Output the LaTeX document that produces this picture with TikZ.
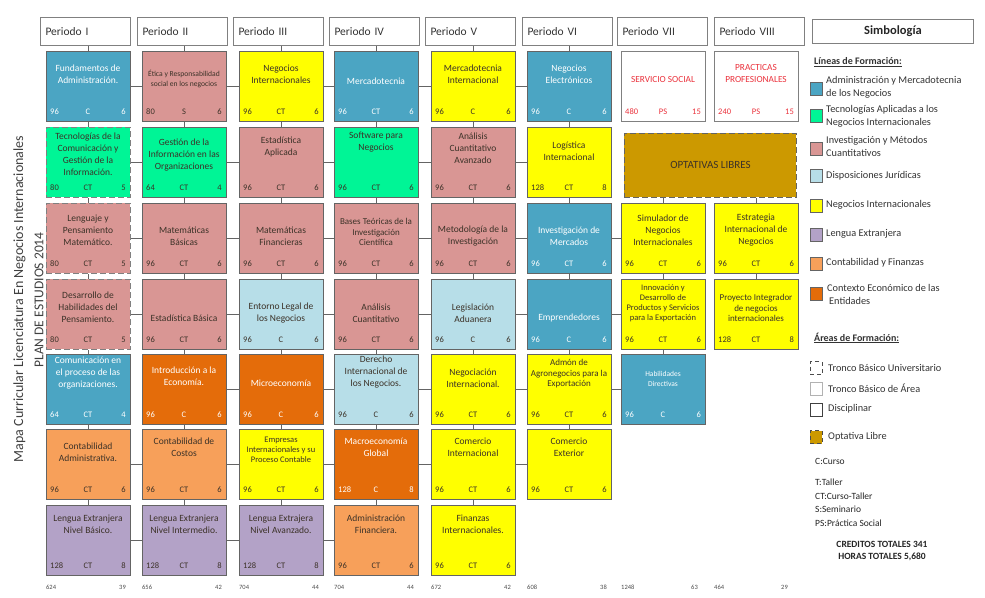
\documentclass[tikz,border=0pt]{standalone}
\usepackage{fontspec}
\setmainfont{Carlito}
\usetikzlibrary{calc}
\definecolor{admc}{RGB}{75,165,195}
\definecolor{tecc}{RGB}{0,245,150}
\definecolor{invc}{RGB}{217,150,148}
\definecolor{jurc}{RGB}{183,222,232}
\definecolor{negc}{RGB}{255,255,0}
\definecolor{lenc}{RGB}{179,162,199}
\definecolor{conc}{RGB}{247,160,90}
\definecolor{ecoc}{RGB}{228,108,10}
\definecolor{optc}{RGB}{204,153,0}
\definecolor{brd}{RGB}{100,100,100}
\definecolor{dtxt}{RGB}{60,50,40}
\definecolor{pstxt}{RGB}{235,50,60}
\tikzset{
 box/.style={draw=brd, line width=0.9pt, minimum width=84pt, minimum height=70pt, inner sep=0pt, anchor=north west},
 adm/.style={fill=admc, text=white},
 tec/.style={fill=tecc, text=dtxt},
 inv/.style={fill=invc, text=dtxt},
 jur/.style={fill=jurc, text=dtxt},
 neg/.style={fill=negc, text=dtxt},
 len/.style={fill=lenc, text=dtxt},
 con/.style={fill=conc, text=dtxt},
 eco/.style={fill=ecoc, text=white},
 ps/.style={fill=white, text=pstxt, draw=gray, font=\fontsize{9.3}{12}\selectfont},
 tbu/.style={dash pattern=on 6pt off 3pt, draw=gray},
 sma/.style={font=\fontsize{7.6}{10.5}\selectfont},
 smb/.style={font=\fontsize{8.5}{10}\selectfont},
 smc/.style={font=\fontsize{9}{10.5}\selectfont},
 smd/.style={font=\fontsize{7.5}{10}\selectfont},
 ttl/.style={align=center, font=\fontsize{9.5}{12}\selectfont, inner sep=0pt},
 num/.style={font=\fontsize{8.5}{9}\selectfont, inner sep=0pt},
 conn/.style={draw=brd, line width=0.8pt},
 hdr/.style={draw=gray, line width=1pt, minimum width=90pt, minimum height=28pt, anchor=north west, text width=80pt, inner xsep=5pt, align=left, font=\fontsize{11.5}{13}\selectfont, text=black!80},
 tot/.style={font=\fontsize{6.5}{8}\selectfont, text=black!70, inner sep=0pt},
 sw/.style={draw=brd, line width=0.6pt, minimum width=12pt, minimum height=13pt, inner sep=0pt},
 leg/.style={font=\fontsize{10.3}{13}\selectfont, text=black!80, inner sep=0pt, align=left},
 abbr/.style={font=\fontsize{9.5}{11}\selectfont, text=black!85, inner sep=0pt, anchor=west},
}
\newcommand\crs[9]{%
 \node[box,#4] (#1) at (#2,#3) {};
 \node[ttl,#4,fill=none,draw=none] (#1t) at ($(#1.north west)+(42,#6)$) {#5};
 \node[#4,num,fill=none,draw=none,anchor=west] (#1h) at ($(#1.north west)+(4,61)$) {#7};
 \node[#4,num,fill=none,draw=none] (#1k) at ($(#1.north west)+(42,61)$) {#8};
 \node[#4,num,fill=none,draw=none,anchor=east] (#1c) at ($(#1.north west)+(80,61)$) {#9};
}
\begin{document}
\begin{tikzpicture}[x=1pt,y=-1pt]
\useasboundingbox (0,0) rectangle (985,597);
\fill[white] (0,0) rectangle (985,597);
% side titles
\node[rotate=90, font=\fontsize{14}{16}\selectfont, text=black!75, inner sep=0pt] (tmain) at (19.5,299) {Mapa Curricular Licenciatura En Negocios Internacionales};
\node[rotate=90, font=\fontsize{13.5}{16}\selectfont, text=black!75, inner sep=0pt] (tplan) at (39,300) {PLAN DE ESTUDIOS 2014};
% headers
\node[hdr] (ha) at (40,17) {Periodo I};
\node[hdr] (hb) at (137,17) {Periodo II};
\node[hdr] (hc) at (233,17) {Periodo III};
\node[hdr] (hd) at (329,17) {Periodo IV};
\node[hdr] (he) at (425,17) {Periodo V};
\node[hdr] (hf) at (522,17) {Periodo VI};
\node[hdr] (hg) at (617,17) {Periodo VII};
\node[hdr] (hh) at (714,17) {Periodo VIII};
% row 1
\crs{a1}{46}{51}{adm}{Fundamentos de\\Administración.}{23}{96}{C}{6}
\crs{b1}{142}{51}{inv,sma}{Ética y Responsabilidad\\social en los negocios}{28}{80}{S}{6}
\crs{c1}{239}{51}{neg}{Negocios\\Internacionales}{23}{96}{CT}{6}
\crs{d1}{334}{51}{adm}{Mercadotecnia}{30}{96}{CT}{6}
\crs{e1}{431}{51}{neg}{Mercadotecnia\\Internacional}{23}{96}{C}{6}
\crs{f1}{527}{51}{adm}{Negocios\\Electrónicos}{23}{96}{C}{6}
\crs{g1}{621}{51}{ps}{SERVICIO SOCIAL}{29}{480}{PS}{15}
\crs{h1}{714}{51}{ps}{PRACTICAS\\PROFESIONALES}{23}{240}{PS}{15}
% row 2
\crs{a2}{46}{127}{tec,tbu}{Tecnologías de la\\Comunicación y\\Gestión de la\\Información.}{27}{80}{CT}{5}
\crs{b2}{142}{127}{tec}{Gestión de la\\Información en las\\Organizaciones}{28}{64}{CT}{4}
\crs{c2}{239}{127}{inv}{Estadística\\Aplicada}{20}{96}{CT}{6}
\crs{d2}{334}{127}{tec}{Software para\\Negocios}{15}{96}{CT}{6}
\crs{e2}{431}{127}{inv}{Análisis\\Cuantitativo\\Avanzado}{21}{96}{CT}{6}
\crs{f2}{527}{127}{neg}{Logística\\Internacional}{24}{128}{CT}{8}
\node[draw=brd, line width=0.9pt, dash pattern=on 6pt off 3pt, fill=optc, minimum width=172pt, minimum height=64pt, anchor=north west, font=\fontsize{11}{12}\selectfont, text=dtxt] (opt) at (624,133) {OPTATIVAS LIBRES};
% row 3
\crs{a3}{46}{203}{inv,tbu}{Lenguaje y\\Pensamiento\\Matemático.}{27}{80}{CT}{5}
\crs{b3}{142}{203}{inv}{Matemáticas\\Básicas}{33}{96}{CT}{6}
\crs{c3}{239}{203}{inv}{Matemáticas\\Financieras}{33}{96}{CT}{6}
\crs{d3}{334}{203}{inv,smc}{Bases Teóricas de la\\Investigación\\Científica}{29}{96}{CT}{6}
\crs{e3}{431}{203}{inv}{Metodología de la\\Investigación}{33}{96}{CT}{6}
\crs{f3}{527}{203}{adm}{Investigación de\\Mercados}{33}{96}{CT}{6}
\crs{g3}{621}{203}{neg}{Simulador de\\Negocios\\Internacionales}{27}{96}{CT}{6}
\crs{h3}{714}{203}{neg}{Estrategia\\Internacional de\\Negocios}{27}{96}{CT}{6}
% row 4
\crs{a4}{46}{279}{inv,tbu}{Desarrollo de\\Habilidades del\\Pensamiento.}{28}{80}{CT}{5}
\crs{b4}{142}{279}{inv}{Estadística Básica}{39}{96}{CT}{6}
\crs{c4}{239}{279}{jur}{Entorno Legal de\\los Negocios}{34}{96}{C}{6}
\crs{d4}{334}{279}{inv}{Análisis\\Cuantitativo}{34}{96}{CT}{6}
\crs{e4}{431}{279}{jur}{Legislación\\Aduanera}{34}{96}{C}{6}
\crs{f4}{527}{279}{adm}{Emprendedores}{39}{96}{C}{6}
\crs{g4}{621}{279}{neg,smb}{Innovación y\\Desarrollo de\\Productos y Servicios\\para la Exportación}{24}{96}{CT}{6}
\crs{h4}{714}{279}{neg,smc}{Proyecto Integrador\\de negocios\\internacionales}{29}{128}{CT}{8}
% row 5
\crs{a5}{46}{354}{adm}{Comunicación en\\el proceso de las\\organizaciones.}{19}{64}{CT}{4}
\crs{b5}{142}{354}{eco}{Introducción a la\\Economía.}{22}{96}{C}{6}
\crs{c5}{239}{354}{eco}{Microeconomía}{29}{96}{C}{6}
\crs{d5}{334}{354}{jur}{Derecho\\Internacional de\\los Negocios.}{18}{96}{C}{6}
\crs{e5}{431}{354}{neg}{Negociación\\Internacional.}{24}{96}{CT}{6}
\crs{f5}{527}{354}{neg,smc}{Admón de\\Agronegocios para la\\Exportación}{20}{96}{CT}{6}
\crs{g5}{621}{354}{adm,smd}{Habilidades\\Directivas}{25}{96}{C}{6}
% row 6
\crs{a6}{46}{429}{con}{Contabilidad\\Administrativa.}{23}{96}{CT}{6}
\crs{b6}{142}{429}{con}{Contabilidad de\\Costos}{18}{96}{CT}{6}
\crs{c6}{239}{429}{neg,smb}{Empresas\\Internacionales y su\\Proceso Contable}{21}{96}{CT}{6}
\crs{d6}{334}{429}{eco}{Macroeconomía\\Global}{18}{128}{C}{8}
\crs{e6}{431}{429}{neg}{Comercio\\Internacional}{18}{96}{CT}{6}
\crs{f6}{527}{429}{neg}{Comercio\\Exterior}{18}{96}{CT}{6}
% row 7
\crs{a7}{46}{505}{len}{Lengua Extranjera\\Nivel Básico.}{19}{128}{CT}{8}
\crs{b7}{142}{505}{len}{Lengua Extranjera\\Nivel Intermedio.}{19}{128}{CT}{8}
\crs{c7}{239}{505}{len}{Lengua Extrajera\\Nivel Avanzado.}{19}{128}{CT}{8}
\crs{d7}{334}{505}{con}{Administración\\Financiera.}{19}{96}{CT}{6}
\crs{e7}{431}{505}{neg}{Finanzas\\Internacionales.}{19}{96}{CT}{6}
% connectors: header to first row
\foreach \cl in {a,b,c,d,e,f}{\draw[conn] (\cl1.north |- h\cl.south) -- (\cl1.north);}
% vertical connectors
\foreach \cl/\m in {a/6,b/6,c/6,d/6,e/6,f/5}{
  \foreach \r in {1,...,\m}{\pgfmathtruncatemacro\nx{\r+1}\draw[conn] (\cl\r.south) -- (\cl\nx.north);}}
\draw[conn] (g3.south) -- (g4.north);
\draw[conn] (g4.south) -- (g5.north);
\draw[conn] (h3.south) -- (h4.north);
\draw[conn] (g3.north |- opt.south) -- (g3.north);
\draw[conn] (h3.north |- opt.south) -- (h3.north);
% horizontal connectors
\foreach \p/\q in {a1/b1,b1/c1,c1/d1,d1/e1,e1/f1,
  a2/b2,b2/c2,c2/d2,d2/e2,e2/f2,
  a3/b3,b3/c3,c3/d3,d3/e3,e3/f3,f3/g3,
  a4/b4,b4/c4,c4/d4,d4/e4,e4/f4,f4/g4,
  b5/c5,c5/d5,d5/e5,e5/f5,f5/g5,
  a6/b6,b6/c6,c6/d6,d6/e6,e6/f6,
  a7/b7,b7/c7,c7/d7}{\draw[conn] (\p.east) -- (\q.west);}
% totals
\foreach \cl/\x/\hl/\hr/\w in {a/46/624/39/80, b/142/656/42/80, c/239/704/44/80, d/334/704/44/80, e/431/672/42/80, f/527/608/38/80, g/621/1248/63/77, h/714/464/29/74}{
  \node[tot,anchor=west] (t\cl l) at (\x,587) {\hl};
  \node[tot,anchor=east] (t\cl r) at (\x+\w,587) {\hr};}
% legend
\node[draw=gray, line width=1pt, minimum width=161pt, minimum height=24pt, anchor=north west, font=\bfseries\fontsize{12.5}{14}\selectfont, text=black!85] (simb) at (812,19) {Simbología};
\node[leg, anchor=west, font=\bfseries\fontsize{10}{12}\selectfont] (lin) at (814,62) {\underline{Líneas de Formación:}};
\node[sw, fill=admc] (s1) at (816,89) {};
\node[leg, anchor=north west] (l1) at (826,76) {Administración y Mercadotecnia\\de los Negocios};
\node[sw, fill=tecc] (s2) at (816,116) {};
\node[leg, anchor=north west] (l2) at (826,105) {Tecnologías Aplicadas a los\\Negocios Internacionales};
\node[sw, fill=invc] (s3) at (816,149) {};
\node[leg, anchor=north west] (l3) at (826,136) {Investigación y Métodos\\Cuantitativos};
\node[sw, fill=jurc] (s4) at (816,176) {};
\node[leg, anchor=west] (l4) at (826,176) {Disposiciones Jurídicas};
\node[sw, fill=negc] (s5) at (816,206) {};
\node[leg, anchor=west] (l5) at (826,205) {Negocios Internacionales};
\node[sw, fill=lenc] (s6) at (816,235) {};
\node[leg, anchor=west] (l6) at (826,234) {Lengua Extranjera};
\node[sw, fill=conc] (s7) at (816,264) {};
\node[leg, anchor=west] (l7) at (826,263) {Contabilidad y Finanzas};
\node[sw, fill=ecoc] (s8) at (816,294) {};
\node[leg, anchor=north west] (l8) at (827,284) {Contexto Económico de las\\\hspace*{2pt}Entidades};
\node[leg, anchor=west, font=\bfseries\fontsize{10}{12}\selectfont] (are) at (814,338) {\underline{Áreas de Formación:}};
\node[sw, fill=white, draw=black!70, dash pattern=on 4pt off 3pt] (s9) at (816,368) {};
\node[leg, anchor=west] (l9) at (828,368) {Tronco Básico Universitario};
\node[sw, fill=white, draw=gray!60] (s10) at (816,389) {};
\node[leg, anchor=west] (l10) at (828,388) {Tronco Básico de Área};
\node[sw, fill=white, draw=black!75] (s11) at (816,410) {};
\node[leg, anchor=west] (l11) at (828,409) {Disciplinar};
\node[sw, fill=optc, draw=black!70, dash pattern=on 4pt off 3pt] (s12) at (816,437) {};
\node[leg, anchor=west] (l12) at (828,437) {Optativa Libre};
\node[abbr] (ab1) at (815,461) {C:Curso};
\node[abbr] (ab2) at (815,482) {T:Taller};
\node[abbr] (ab3) at (815,496) {CT:Curso-Taller};
\node[abbr] (ab4) at (815,509) {S:Seminario};
\node[abbr] (ab5) at (815,523) {PS:Práctica Social};
\node[font=\bfseries\fontsize{9.5}{11}\selectfont, text=black!85, inner sep=0pt] (cred) at (882,544) {CREDITOS TOTALES 341};
\node[font=\bfseries\fontsize{9.5}{11}\selectfont, text=black!85, inner sep=0pt] (hors) at (882,557) {HORAS TOTALES 5,680};
\end{tikzpicture}
\end{document}
